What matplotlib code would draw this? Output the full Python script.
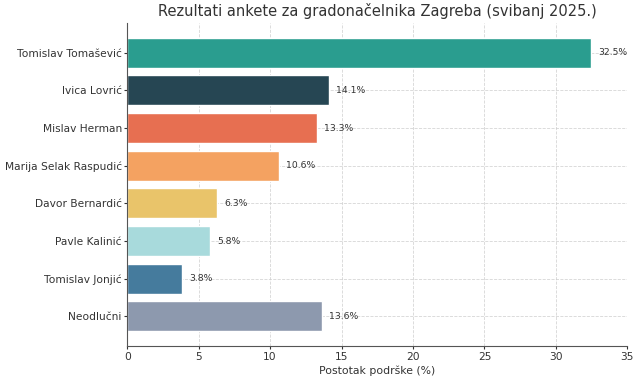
import matplotlib
matplotlib.use("Agg")
import matplotlib.pyplot as plt

# survey data
candidates = ['Tomislav Tomašević', 'Ivica Lovrić', 'Mislav Herman',
              'Marija Selak Raspudić', 'Davor Bernardić', 'Pavle Kalinić',
              'Tomislav Jonjić', 'Neodlučni']
support = [32.5, 14.1, 13.3, 10.6, 6.3, 5.8, 3.8, 13.6]
colors = ['#2a9d8f', '#264653', '#e76f51', '#f4a261', '#e9c46a',
          '#a8dadc', '#457b9d', '#8d99ae']

fig, ax = plt.subplots(figsize=(6.4, 3.82), dpi=100)

bars = ax.barh(candidates, support, color=colors, edgecolor='white', linewidth=1)
ax.invert_yaxis()

for bar, val in zip(bars, support):
    ax.text(bar.get_width() + 0.5, bar.get_y() + bar.get_height() / 2,
            f'{val}%', va='center', ha='left', fontsize=6.7, color='#333333')

ax.set_xlim(0, 35)
ax.set_xlabel('Postotak podrške (%)', fontsize=7.8, color='#333333', labelpad=3)
ax.set_title('Rezultati ankete za gradonačelnika Zagreba (svibanj 2025.)',
             fontsize=10.5, color='#333333', pad=5)
ax.grid(True, linestyle='--', color='#cccccc', linewidth=0.6, alpha=0.8)
ax.set_axisbelow(True)
ax.spines['top'].set_visible(False)
ax.spines['right'].set_visible(False)
ax.spines['left'].set_color('#555555')
ax.spines['bottom'].set_color('#555555')
ax.tick_params(labelsize=7.7, colors='#333333', length=2, pad=2)

plt.subplots_adjust(left=0.199, right=0.98, top=0.94, bottom=0.094)
plt.savefig('out.png', dpi=100)
